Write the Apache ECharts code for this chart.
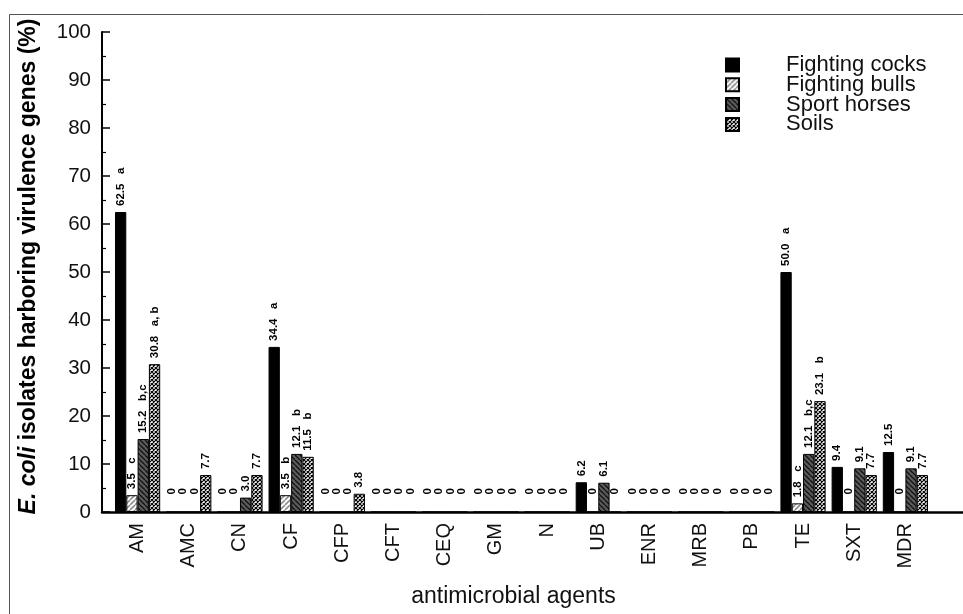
<!DOCTYPE html>
<html>
<head>
<meta charset="utf-8">
<title>E. coli virulence genes</title>
<script src="https://cdn.jsdelivr.net/npm/echarts@6.0.0/dist/echarts.min.js"></script>
<style>
html, body { margin: 0; padding: 0; background: #fff; }
#chart { width: 963px; height: 614px; }
</style>
</head>
<body>
<div id="chart"></div>
<script>
var categories = ['AM', 'AMC', 'CN', 'CF', 'CFP', 'CFT', 'CEQ', 'GM', 'N', 'UB', 'ENR', 'MRB', 'PB', 'TE', 'SXT', 'MDR'];
var seriesNames = ['Fighting cocks', 'Fighting bulls', 'Sport horses', 'Soils'];

var cocks  = [62.5, 0, 0, 34.4, 0, 0, 0, 0, 0, 6.2, 0, 0, 0, 50.0, 9.4, 12.5];
var bulls  = [3.5, 0, 0, 3.5, 0, 0, 0, 0, 0, 0, 0, 0, 0, 1.8, 0, 0];
var horses = [15.2, 0, 3.0, 12.1, 0, 0, 0, 0, 0, 6.1, 0, 0, 0, 12.1, 9.1, 9.1];
var soils  = [30.8, 7.7, 7.7, 11.5, 3.8, 0, 0, 0, 0, 0, 0, 0, 0, 23.1, 7.7, 7.7];

// significance letters printed after the values
var cocksSig  = ['a', '', '', 'a', '', '', '', '', '', '', '', '', '', 'a', '', ''];
var bullsSig  = ['c', '', '', 'b', '', '', '', '', '', '', '', '', '', 'c', '', ''];
var horsesSig = ['b,c', '', '', 'b', '', '', '', '', '', '', '', '', '', 'b,c', '', ''];
var soilsSig  = ['a, b', '', '', 'b', '', '', '', '', '', '', '', '', '', 'b', '', ''];

var FONT = '"Liberation Sans", Arial, Helvetica, sans-serif';

function makePattern(size, draw) {
  var c = document.createElement('canvas');
  c.width = size;
  c.height = size;
  draw(c.getContext('2d'), size);
  return c;
}

var bullsFill = makePattern(5, function (ctx, s) {
  ctx.fillStyle = '#ffffff';
  ctx.fillRect(0, 0, s, s);
  ctx.strokeStyle = '#8c8c8c';
  ctx.lineWidth = 1.6;
  for (var k = -1; k <= 1; k++) {
    ctx.beginPath();
    ctx.moveTo(k * s, s);
    ctx.lineTo(k * s + s, 0);
    ctx.stroke();
  }
});

var horsesFill = makePattern(5, function (ctx, s) {
  ctx.fillStyle = '#5c5c5c';
  ctx.fillRect(0, 0, s, s);
  ctx.strokeStyle = '#111111';
  ctx.lineWidth = 1.3;
  for (var k = -1; k <= 1; k++) {
    ctx.beginPath();
    ctx.moveTo(k * s, 0);
    ctx.lineTo(k * s + s, s);
    ctx.stroke();
  }
});

var soilsFill = makePattern(4, function (ctx, s) {
  ctx.fillStyle = '#ffffff';
  ctx.fillRect(0, 0, s, s);
  ctx.strokeStyle = '#000000';
  ctx.lineWidth = 1.2;
  for (var k = -1; k <= 1; k++) {
    ctx.beginPath();
    ctx.moveTo(k * s, 0);
    ctx.lineTo(k * s + s, s);
    ctx.moveTo(k * s, s);
    ctx.lineTo(k * s + s, 0);
    ctx.stroke();
  }
});

function barSeries(name, values, sig, fill) {
  return {
    name: name,
    type: 'bar',
    xAxisIndex: 1,
    yAxisIndex: 1,
    barWidth: 11.3,
    barGap: '0%',
    itemStyle: { color: fill, borderColor: '#000', borderWidth: 1 },
    data: values.map(function (v) {
      // zeros sit a bit higher above the baseline
      return v === 0 ? { value: v, label: { distance: 17 } } : v;
    }),
    label: {
      show: true,
      position: 'top',
      rotate: 90,
      align: 'left',
      verticalAlign: 'middle',
      distance: 6,
      fontFamily: FONT,
      fontSize: 11.5,
      fontWeight: 'bold',
      color: '#000',
      formatter: function (p) {
        if (p.value === 0) return '0';
        var s = sig[p.dataIndex];
        return p.value.toFixed(1) + (s ? '   ' + s : '');
      }
    }
  };
}

var chart = echarts.init(document.getElementById('chart'), null, { renderer: 'canvas' });

var option = {
  backgroundColor: '#fff',
  animation: false,
  graphic: [{
    type: 'rect',
    silent: true,
    z: -10,
    shape: { x: 9.5, y: 14.5, width: 1000, height: 700 },
    style: { fill: 'none', stroke: '#555', lineWidth: 1 }
  }],
  legend: {
    orient: 'vertical',
    left: 720,
    top: 49,
    itemWidth: 13,
    itemHeight: 13,
    itemGap: -2.2,
    icon: 'rect',
    data: seriesNames,
    formatter: function (name) { return '{t|' + name + '}'; },
    textStyle: {
      color: '#111',
      fontFamily: FONT,
      rich: { t: { fontSize: 22, lineHeight: 19.3, fontFamily: FONT, color: '#111', padding: [0, 0, 0, 42] } }
    }
  },
  grid: [
    { left: 102, top: 32, right: 0, bottom: 102, outerBoundsMode: 'none', containLabel: false },
    { left: 112, top: 32, width: 819, bottom: 102, outerBoundsMode: 'none', containLabel: false }
  ],
  xAxis: [{
    gridIndex: 0,
    type: 'value',
    min: 0,
    max: 1,
    axisLine: { show: true, onZero: false, lineStyle: { color: '#000', width: 2.5 } },
    axisTick: { show: false },
    axisLabel: { show: false },
    splitLine: { show: false }
  }, {
    gridIndex: 1,
    type: 'category',
    data: categories,
    axisLine: { show: false },
    axisTick: { show: false },
    splitLine: { show: false },
    axisLabel: {
      rotate: 90,
      margin: 11,
      interval: 0,
      fontFamily: FONT,
      fontSize: 20,
      color: '#111'
    },
    name: 'antimicrobial agents',
    nameLocation: 'middle',
    nameGap: 73,
    nameTextStyle: { fontFamily: FONT, fontSize: 23, color: '#111', padding: [0, 16, 0, 0] }
  }],
  yAxis: [{
    gridIndex: 0,
    type: 'value',
    min: 0,
    max: 100,
    interval: 10,
    axisLine: { show: true, lineStyle: { color: '#000', width: 2 } },
    axisTick: { show: true, inside: true, length: 8, lineStyle: { color: '#000', width: 1.5 } },
    minorTick: { show: true, splitNumber: 2, length: 4, lineStyle: { color: '#000', width: 1.2 } },
    splitLine: { show: false },
    axisLabel: { margin: 11, fontFamily: FONT, fontSize: 20.5, color: '#111' },
    name: '{i|E. coli} isolates harboring virulence genes (%)',
    nameLocation: 'middle',
    nameGap: 62,
    nameTextStyle: {
      fontFamily: FONT,
      fontSize: 23,
      fontWeight: 'bold',
      color: '#000',
      padding: [0, 0, 0, 11],
      rich: { i: { fontFamily: FONT, fontSize: 23, fontWeight: 'bold', fontStyle: 'italic', color: '#000' } }
    }
  }, {
    gridIndex: 1,
    type: 'value',
    min: 0,
    max: 100,
    show: false
  }],
  series: [
    barSeries(seriesNames[0], cocks, cocksSig, '#000'),
    barSeries(seriesNames[1], bulls, bullsSig, { image: bullsFill, repeat: 'repeat' }),
    barSeries(seriesNames[2], horses, horsesSig, { image: horsesFill, repeat: 'repeat' }),
    barSeries(seriesNames[3], soils, soilsSig, { image: soilsFill, repeat: 'repeat' })
  ]
};

chart.setOption(option);
</script>
</body>
</html>
